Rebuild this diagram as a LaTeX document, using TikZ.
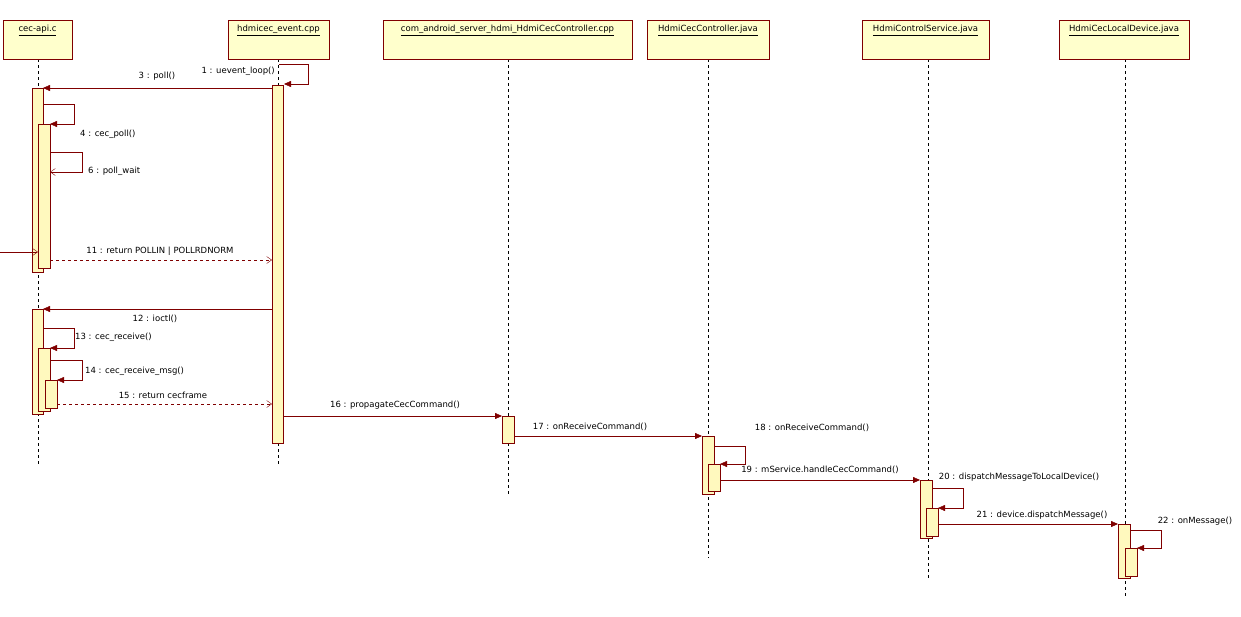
\documentclass[tikz,border=0pt]{standalone}
\usepackage{fontspec}
\setmainfont{DejaVu Sans}
\usetikzlibrary{arrows.meta}
\definecolor{bx}{RGB}{255,255,204}
\definecolor{bar}{RGB}{255,249,190}
\definecolor{ln}{RGB}{128,0,0}
\begin{document}
\begin{tikzpicture}[x=1pt,y=-1pt,
  hdr/.style={draw=ln,fill=bx,inner sep=0pt,font=\fontsize{8.5}{10}\selectfont},
  htx/.style={inner sep=0pt,font=\fontsize{8.5}{10}\selectfont,anchor=north},
  act/.style={draw=ln,fill=bar},
  life/.style={dashed,black,thin},
  msg/.style={ln,-{Triangle[length=7pt,width=6pt]}},
  ret/.style={ln,dashed,-{Straight Barb[length=5pt,width=7pt]}},
  opn/.style={ln,-{Straight Barb[length=5pt,width=7pt]}},
  lbl/.style={font=\fontsize{8.5}{10}\selectfont,inner sep=1pt,text=black}]
\useasboundingbox (0,0) rectangle (1241,616);
\fill[white] (0,0) rectangle (1241,616);
% lifelines
\foreach \x/\e in {38/465,278/465,508/495,708/558,928/578,1125/596}
  \draw[life] (\x,59) -- (\x,\e);
% headers
\node[hdr,minimum width=69pt,minimum height=39pt,anchor=north west] (h1) at (3,20) {};
\node[htx] at (37.5,25) {\underline{cec-api.c}};
\node[hdr,minimum width=101pt,minimum height=39pt,anchor=north west] (h2) at (228,20) {};
\node[htx] at (278.5,25) {\underline{hdmicec\_event.cpp}};
\node[hdr,minimum width=249pt,minimum height=39pt,anchor=north west] (h3) at (383,20) {};
\node[htx] at (507.5,25) {\underline{com\_android\_server\_hdmi\_HdmiCecController.cpp}};
\node[hdr,minimum width=122pt,minimum height=39pt,anchor=north west] (h4) at (647,20) {};
\node[htx] at (708,25) {\underline{HdmiCecController.java}};
\node[hdr,minimum width=127pt,minimum height=39pt,anchor=north west] (h5) at (862,20) {};
\node[htx] at (925.5,25) {\underline{HdmiControlService.java}};
\node[hdr,minimum width=130pt,minimum height=39pt,anchor=north west] (h6) at (1059,20) {};
\node[htx] at (1124,25) {\underline{HdmiCecLocalDevice.java}};
% activations
\draw[act] (272,85) rectangle (283,443);
\draw[act] (32,88) rectangle (43,272);
\draw[act] (38,124) rectangle (50,268);
\draw[act] (32,309) rectangle (43,414);
\draw[act] (38,348) rectangle (50,411);
\draw[act] (45,380) rectangle (57,408);
\draw[act] (502,416) rectangle (514,443);
\draw[act] (702,436) rectangle (714,494);
\draw[act] (708,464) rectangle (720,491);
\draw[act] (920,480) rectangle (932,538);
\draw[act] (926,508) rectangle (938,536);
\draw[act] (1118,524) rectangle (1130,578);
\draw[act] (1125,548) rectangle (1137,576);
% messages
\draw[msg] (279,64) -- (308,64) -- (308,84) -- (284,84);
\node[lbl,anchor=east] at (276,71) {1 : uevent\_loop()};
\draw[msg] (272,88) -- (43,88);
\node[lbl] at (157,76) {3 : poll()};
\draw[msg] (43,104) -- (74,104) -- (74,124) -- (50,124);
\node[lbl,anchor=west] at (79,134) {4 : cec\_poll()};
\draw[opn] (50,152) -- (82,152) -- (82,172) -- (50,172);
\node[lbl,anchor=west] at (87,171) {6 : poll\_wait};
\draw[opn] (0,252) -- (38,252);
\draw[ret] (50,260) -- (272,260);
\node[lbl] at (160,251) {11 : return POLLIN | POLLRDNORM};
\draw[msg] (272,309) -- (43,309);
\node[lbl] at (155,319) {12 : ioctl()};
\draw[msg] (43,328) -- (74,328) -- (74,348) -- (50,348);
\node[lbl,anchor=west] at (74,337) {13 : cec\_receive()};
\draw[msg] (50,360) -- (82,360) -- (82,380) -- (57,380);
\node[lbl,anchor=west] at (84,371) {14 : cec\_receive\_msg()};
\draw[ret] (57,404) -- (272,404);
\node[lbl] at (163,395) {15 : return cecframe};
\draw[msg] (283,416) -- (502,416);
\node[lbl] at (395,405) {16 : propagateCecCommand()};
\draw[msg] (514,436) -- (702,436);
\node[lbl] at (590,427) {17 : onReceiveCommand()};
\draw[msg] (714,446) -- (745,446) -- (745,464) -- (720,464);
\node[lbl] at (812,428) {18 : onReceiveCommand()};
\draw[msg] (720,480) -- (920,480);
\node[lbl] at (820,470) {19 : mService.handleCecCommand()};
\draw[msg] (932,488) -- (963,488) -- (963,508) -- (938,508);
\node[lbl] at (1019,477) {20 : dispatchMessageToLocalDevice()};
\draw[msg] (938,524) -- (1118,524);
\node[lbl] at (1042,515) {21 : device.dispatchMessage()};
\draw[msg] (1130,530) -- (1161,530) -- (1161,548) -- (1137,548);
\node[lbl] at (1195,521) {22 : onMessage()};
\end{tikzpicture}
\end{document}
